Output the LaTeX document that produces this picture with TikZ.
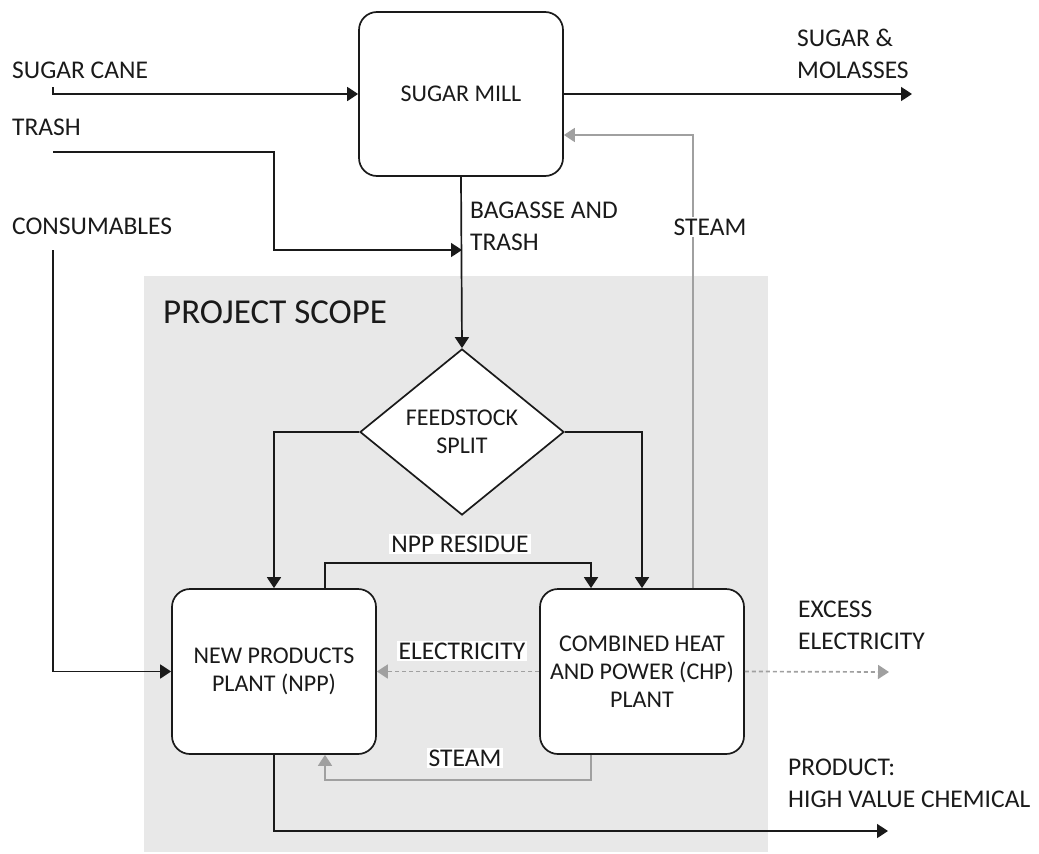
\documentclass[tikz,border=0pt]{standalone}
\usepackage{fontspec}
\setmainfont{Carlito}
\usetikzlibrary{arrows.meta,shapes.geometric}
\definecolor{txt}{HTML}{1A1A1A}
\definecolor{scopebg}{HTML}{E8E8E8}
\definecolor{gline}{HTML}{A0A0A0}
\tikzset{
  tip/.style={-{Triangle[length=11pt,width=14pt]}},
  flow/.style={draw=txt,line width=1.7pt,tip},
  gflow/.style={draw=gline,line width=1.7pt,tip},
  eflow/.style={draw=gline,line width=1.7pt,dash pattern=on 4pt off 3pt,tip},
  procbox/.style={draw=txt,line width=1.7pt,fill=white,rounded corners=18pt,
    minimum width=204pt,minimum height=165pt,align=center,text=txt,
    font=\fontsize{24}{28}\selectfont},
  lbl/.style={inner sep=0pt,text=txt,align=left,font=\fontsize{25.5}{32}\selectfont},
  wlbl/.style={fill=white,inner sep=2pt,text=txt,font=\fontsize{25.5}{28}\selectfont},
}
\begin{document}
\begin{tikzpicture}[x=1pt,y=-1pt]
\useasboundingbox (0,0) rectangle (1039,854);
% project scope background
\fill[scopebg] (144,276) rectangle (768,852);
\node[lbl,anchor=base west,font=\fontsize{35}{40}\selectfont] (scope) at (163,323) {PROJECT SCOPE};

% process nodes
\node[procbox,minimum height=164pt] (mill) at (461,94) {SUGAR MILL};
\node[diamond,draw=txt,line width=1.7pt,fill=white,minimum width=204pt,minimum height=166pt,
  inner sep=0pt,align=center,text=txt,font=\fontsize{24}{28}\selectfont] (split) at (462,432) {FEEDSTOCK\\SPLIT};
\node[procbox] (npp) at (274,671.5) {NEW PRODUCTS\\PLANT (NPP)};
\node[procbox] (chp) at (642,671.5) {COMBINED HEAT\\AND POWER (CHP)\\PLANT};

% outside labels
\node[lbl,anchor=base west] (lcane) at (12,78) {SUGAR CANE};
\node[lbl,anchor=base west] (ltrash) at (12,135) {TRASH};
\node[lbl,anchor=base west] (lcons) at (12,234) {CONSUMABLES};
\node[lbl,anchor=north west] (lsugar) at (797,29) {SUGAR \&\\MOLASSES};
\node[lbl,anchor=north west] (lbag) at (470,202) {BAGASSE AND\\TRASH};
\node[lbl,anchor=north west] (lexcess) at (798,601) {EXCESS\\ELECTRICITY};
\node[lbl,anchor=north west] (lprod) at (788,759) {PRODUCT:\\HIGH VALUE CHEMICAL};

% free ends
\coordinate (canestart) at (53,87);
\coordinate (trashstart) at (53,152);
\coordinate (trashbend) at (274,250);
\coordinate (trashend) at (462,250);
\coordinate (consstart) at (53,250);
\coordinate (sugarend) at (912,94);
\coordinate (excessend) at (889,672);
\coordinate (prodend) at (888,831);

% connectors
\draw[flow] (canestart) |- (mill.west);
\draw[flow] (mill.east) -- (sugarend);
\draw[flow] (trashstart) -| (trashbend) -- (trashend);
\draw[flow] (consstart) |- (npp.west);
\draw[flow] (mill.south) -- (split.north);
\draw[flow] (split.west) -| (npp.north);
\draw[flow] (split.east) -| (chp.north);
\draw[flow] ([xshift=51pt]npp.north) -- ++(0,-25) -| ([xshift=-51pt]chp.north);
\draw[gflow] ([xshift=51pt]chp.north) |- ([yshift=-41pt]mill.east);
\draw[eflow] (chp.west) -- (npp.east);
\draw[eflow] (chp.east) -- (excessend);
\draw[gflow] ([xshift=-51pt]chp.south) -- ++(0,25) -| ([xshift=51pt]npp.south);
\draw[flow] (npp.south) |- (prodend);

% connector labels
\node[wlbl] (lsteamup) at (710,227) {STEAM};
\node[wlbl] (lres) at (460,544) {NPP RESIDUE};
\node[wlbl] (lelec) at (462,651) {ELECTRICITY};
\node[wlbl] (lsteamlow) at (465,758) {STEAM};
\end{tikzpicture}
\end{document}
